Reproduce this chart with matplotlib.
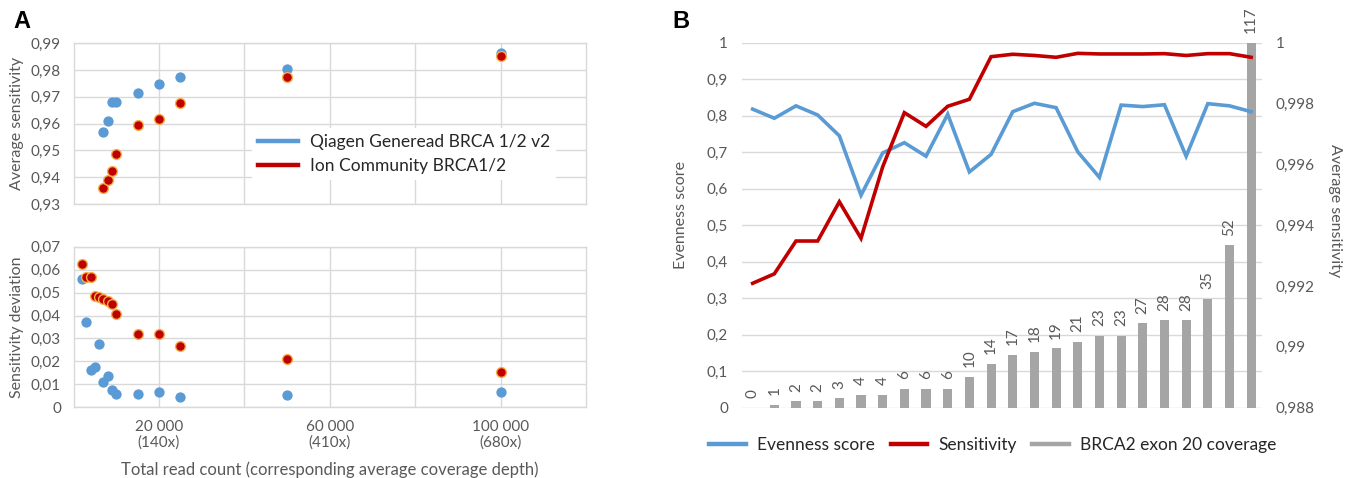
"""
Two-panel figure: A = sensitivity vs read count (scatter),
B = evenness / sensitivity lines with BRCA2 exon 20 coverage bars
"""

import matplotlib
matplotlib.use('Agg')
import matplotlib.pyplot as plt
from matplotlib.lines import Line2D
from matplotlib.ticker import FuncFormatter
import numpy as np

plt.rcParams['font.family'] = ['Lato', 'DejaVu Sans']

BLUE = '#5B9BD5'
RED = '#C00000'
RED_EDGE = '#F4B04A'
GRAY_BAR = '#A5A5A5'
GRID = '#D9D9D9'
TICK_COLOR = '#595959'
TEXT_DARK = '#262626'

# ---- Panel A data ----
# average sensitivity (only points inside 0.93-0.99 are shown)
SENS_X = [7000, 8000, 9000, 10000, 15000, 20000, 25000, 50000, 100000]
SENS_QIAGEN = [0.9570, 0.9609, 0.9681, 0.9682, 0.9714, 0.9749, 0.9774, 0.9803, 0.9865]
SENS_ION = [0.9361, 0.9391, 0.9424, 0.9485, 0.9594, 0.9616, 0.9676, 0.9773, 0.9854]

# sensitivity deviation
DEV_X = [2000, 3000, 4000, 5000, 6000, 7000, 8000, 9000, 10000,
         15000, 20000, 25000, 50000, 100000]
DEV_QIAGEN = [0.0559, 0.0370, 0.0163, 0.0175, 0.0276, 0.0109, 0.0137, 0.0075,
              0.0057, 0.0057, 0.0065, 0.0044, 0.0054, 0.0068]
DEV_ION = [0.0623, 0.0567, 0.0566, 0.0485, 0.0479, 0.0472, 0.0462, 0.0450,
           0.0405, 0.0318, 0.0321, 0.0266, 0.0210, 0.0154]

XTICKS_A = [20000, 60000, 100000]
XTICK_LABELS_A = ['20 000\n(140x)', '60 000\n(410x)', '100 000\n(680x)']

# ---- Panel B data ----
COVERAGE = [0, 1, 2, 2, 3, 4, 4, 6, 6, 6, 10, 14, 17, 18, 19, 21, 23, 23,
            27, 28, 28, 35, 52, 117]
EVENNESS = [0.818, 0.793, 0.827, 0.802, 0.745, 0.582, 0.698, 0.726, 0.689,
            0.804, 0.646, 0.694, 0.811, 0.834, 0.822, 0.701, 0.631, 0.829,
            0.825, 0.830, 0.689, 0.833, 0.827, 0.811]
SENSITIVITY = [0.99209, 0.99240, 0.99348, 0.99348, 0.99477, 0.99357, 0.99592,
               0.99770, 0.99725, 0.99791, 0.99814, 0.99954, 0.99962, 0.99958,
               0.99952, 0.99965, 0.99963, 0.99963, 0.99963, 0.99964, 0.99958,
               0.99964, 0.99964, 0.99952]


def comma_fmt(v, pos=None):
    return f"{round(v, 4):g}".replace('.', ',')


def style_scatter_axis(ax):
    ax.set_xlim(0, 120000)
    ax.set_xticks(XTICKS_A)
    ax.set_xticks([40000, 80000], minor=True)
    ax.grid(True, which='both', color=GRID, linewidth=1)
    ax.set_axisbelow(True)
    for sp in ax.spines.values():
        sp.set_color(GRID)
        sp.set_linewidth(1)
    ax.tick_params(which='both', length=0, labelsize=11, colors=TICK_COLOR, pad=9)
    ax.yaxis.set_major_formatter(FuncFormatter(comma_fmt))


fig = plt.figure(figsize=(13.5, 4.78), dpi=100)
W, H = 1350, 478


def rect(x0, y0, x1, y1):
    return [x0 / W, 1 - y1 / H, (x1 - x0) / W, (y1 - y0) / H]


# ---------------- Panel A (top) ----------------
ax_top = fig.add_axes(rect(73.5, 43.3, 586, 204))
style_scatter_axis(ax_top)
ax_top.scatter(SENS_X, SENS_QIAGEN, s=55, color=BLUE, zorder=3, linewidths=0)
ax_top.scatter(SENS_X, SENS_ION, s=50, color=RED, edgecolors=RED_EDGE,
               linewidths=1, zorder=4)
ax_top.set_ylim(0.93, 0.99)
ax_top.set_yticks(np.arange(0.93, 0.9901, 0.01))
ax_top.tick_params(axis='x', labelbottom=False)
ax_top.set_ylabel('Average sensitivity', fontsize=11.5, color=TICK_COLOR)
ax_top.yaxis.set_label_coords(-0.097, 0.5)

handles = [Line2D([], [], color=BLUE, lw=3.2),
           Line2D([], [], color=RED, lw=3.2)]
leg = ax_top.legend(handles, ['Qiagen Generead BRCA 1/2 v2', 'Ion Community BRCA1/2'],
                    loc='center left', bbox_to_anchor=(252 / W, 1 - 154 / H),
                    bbox_transform=fig.transFigure, frameon=True, fontsize=12.5,
                    handlelength=2.3, handletextpad=0.7, labelspacing=0.45,
                    borderpad=0.35, borderaxespad=0)
leg.get_frame().set_facecolor('white')
leg.get_frame().set_edgecolor('none')
leg.get_frame().set_alpha(1)
for t in leg.get_texts():
    t.set_color(TEXT_DARK)

# ---------------- Panel A (bottom) ----------------
ax_bot = fig.add_axes(rect(73.5, 246.7, 586, 407.3))
style_scatter_axis(ax_bot)
ax_bot.scatter(DEV_X, DEV_QIAGEN, s=55, color=BLUE, zorder=3, linewidths=0)
ax_bot.scatter(DEV_X, DEV_ION, s=50, color=RED, edgecolors=RED_EDGE,
               linewidths=1, zorder=4)
ax_bot.set_ylim(0, 0.07)
ax_bot.set_yticks(np.arange(0, 0.0701, 0.01))
ax_bot.set_xticklabels(XTICK_LABELS_A, linespacing=1.1)
ax_bot.set_ylabel('Sensitivity deviation', fontsize=11.5, color=TICK_COLOR)
ax_bot.yaxis.set_label_coords(-0.097, 0.5)
ax_bot.set_xlabel('Total read count (corresponding average coverage depth)',
                  fontsize=12, color=TICK_COLOR, labelpad=9)

fig.text(13 / W, 1 - 22 / H, 'A', fontsize=17, fontweight='bold',
         family='Liberation Sans', va='center', ha='left')
fig.text(672 / W, 1 - 22 / H, 'B', fontsize=17, fontweight='bold',
         family='Liberation Sans', va='center', ha='left')

# ---------------- Panel B ----------------
x = np.arange(len(COVERAGE))
ax_bar = fig.add_axes(rect(741.8, 42.7, 1262, 407.7))
ax_bar.set_xlim(-0.5, len(COVERAGE) - 0.5)
ax_bar.set_ylim(0, max(COVERAGE))
ax_bar.set_yticks(np.linspace(0, max(COVERAGE), 11))
ax_bar.grid(True, axis='y', color=GRID, linewidth=1)
ax_bar.set_axisbelow(True)
ax_bar.tick_params(length=0, labelleft=False, labelbottom=False)
for sp in ax_bar.spines.values():
    sp.set_visible(False)
bars = ax_bar.bar(x, COVERAGE, width=0.42, color=GRAY_BAR, zorder=2)
ax_bar.bar_label(bars, labels=[str(c) for c in COVERAGE], rotation=90,
                 padding=7, fontsize=11, color=TICK_COLOR, annotation_clip=False)

ax_even = ax_bar.twinx()
ax_even.yaxis.tick_left()
ax_even.yaxis.set_label_position('left')
ax_even.plot(x, EVENNESS, color=BLUE, lw=2.6, solid_joinstyle='miter')
ax_even.set_ylim(0, 1)
ax_even.set_yticks(np.arange(0, 1.001, 0.1))
ax_even.yaxis.set_major_formatter(FuncFormatter(comma_fmt))
ax_even.tick_params(length=0, labelsize=11, colors=TICK_COLOR, pad=10)
ax_even.set_ylabel('Evenness score', fontsize=11.5, color=TICK_COLOR)
ax_even.yaxis.set_label_coords(-0.103, 0.528)
for sp in ax_even.spines.values():
    sp.set_visible(False)

ax_sens = ax_bar.twinx()
ax_sens.plot(x, SENSITIVITY, color=RED, lw=2.6, solid_joinstyle='miter')
ax_sens.set_ylim(0.988, 1.0)
ax_sens.set_yticks(np.arange(0.988, 1.0001, 0.002))
ax_sens.yaxis.set_major_formatter(FuncFormatter(comma_fmt))
ax_sens.tick_params(length=0, labelsize=11, colors=TICK_COLOR, pad=10)
ax_sens.set_ylabel('Average sensitivity', fontsize=11.5, color=TICK_COLOR,
                   rotation=270, va='center')
ax_sens.yaxis.set_label_coords(1.14, 0.539)
for sp in ax_sens.spines.values():
    sp.set_visible(False)

handles_b = [Line2D([], [], color=BLUE, lw=3.2),
             Line2D([], [], color=RED, lw=3.2),
             Line2D([], [], color=GRAY_BAR, lw=3.2)]
leg_b = fig.legend(handles_b, ['Evenness score', 'Sensitivity', 'BRCA2 exon 20 coverage'],
                   loc='center', bbox_to_anchor=(993 / W, 1 - 445 / H), ncol=3,
                   frameon=False, fontsize=12.5, handlelength=2.1,
                   handletextpad=0.65, columnspacing=0.9)
for t in leg_b.get_texts():
    t.set_color(TEXT_DARK)

fig.savefig('out.png', dpi=100)
